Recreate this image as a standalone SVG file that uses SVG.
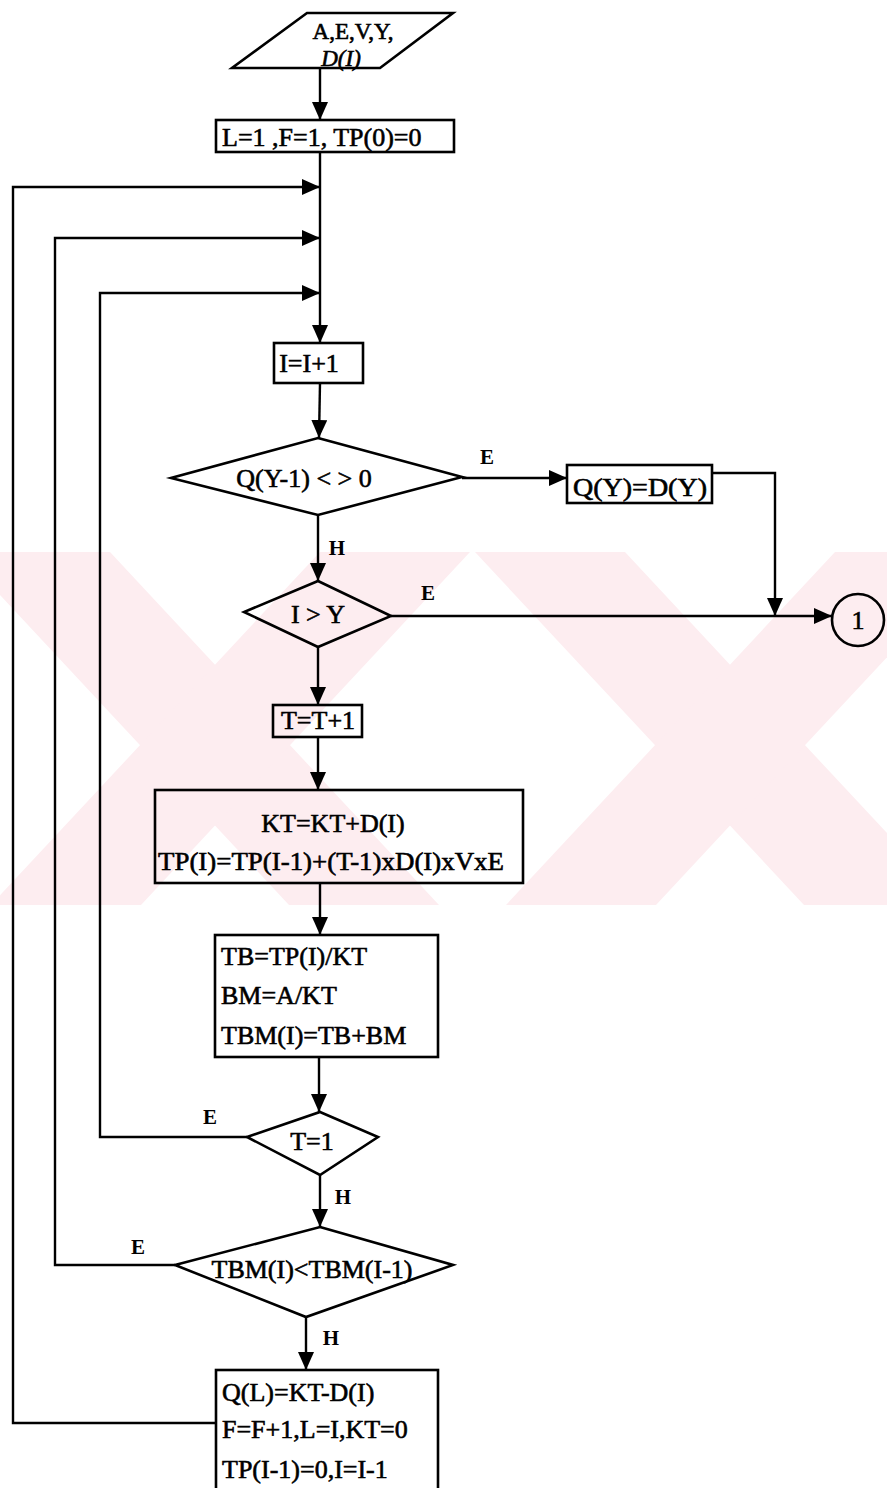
<svg xmlns="http://www.w3.org/2000/svg" width="887" height="1488" viewBox="0 0 887 1488">
<defs>
<style>
.wm{fill:#fdedf0;stroke:none}
.shape{fill:none;stroke:#000;stroke-width:2.6;stroke-linejoin:miter}
.line{fill:none;stroke:#000;stroke-width:2.4}
.t{font-family:"Liberation Serif","Times New Roman",serif;font-size:26px;fill:#000;stroke:#000;stroke-width:0.6}
.ts{font-size:23px}
.lab{font-family:"Liberation Serif","Times New Roman",serif;font-size:21px;font-weight:bold;fill:#000}
</style>
<marker id="ah" viewBox="0 0 18 16" refX="18" refY="8" markerWidth="18" markerHeight="16" markerUnits="userSpaceOnUse" orient="auto">
<path d="M0,0 L18,8 L0,16 Z" fill="#000"/>
</marker>
</defs>
<rect width="887" height="1488" fill="#fff"/>
<g id="watermark">
<polygon class="wm" points="-40,552 110,552 439,905 289,905"/>
<polygon class="wm" points="320,552 470,552 141,905 -9,905"/>
<polygon class="wm" points="475,552 625,552 954,905 804,905"/>
<polygon class="wm" points="835,552 985,552 656,905 506,905"/>
</g>
<g id="connectors">
<line class="line" x1="320" y1="68" x2="320" y2="120" marker-end="url(#ah)"/>
<line class="line" x1="320" y1="152" x2="320" y2="343" marker-end="url(#ah)"/>
<line class="line" x1="320" y1="383" x2="319" y2="438" marker-end="url(#ah)"/>
<line class="line" x1="318" y1="515" x2="318" y2="581" marker-end="url(#ah)"/>
<line class="line" x1="318" y1="647" x2="318" y2="705" marker-end="url(#ah)"/>
<line class="line" x1="318" y1="737" x2="318" y2="790" marker-end="url(#ah)"/>
<line class="line" x1="320" y1="883" x2="320" y2="935" marker-end="url(#ah)"/>
<line class="line" x1="319" y1="1057" x2="319" y2="1112" marker-end="url(#ah)"/>
<line class="line" x1="320" y1="1175" x2="320" y2="1227" marker-end="url(#ah)"/>
<line class="line" x1="306" y1="1317" x2="306" y2="1370" marker-end="url(#ah)"/>
<line class="line" x1="462" y1="478" x2="567" y2="478" marker-end="url(#ah)"/>
<polyline class="line" points="712,473 775,473 775,616" marker-end="url(#ah)"/>
<line class="line" x1="391" y1="616" x2="832" y2="616" marker-end="url(#ah)"/>
<polyline class="line" points="247,1137 100,1137 100,293 320,293" marker-end="url(#ah)"/>
<polyline class="line" points="175,1265 55,1265 55,238 320,238" marker-end="url(#ah)"/>
<polyline class="line" points="216,1423 13,1423 13,187 320,187" marker-end="url(#ah)"/>
<text class="lab" x="487" y="464" text-anchor="middle">E</text>
<text class="lab" x="337" y="555" text-anchor="middle">H</text>
<text class="lab" x="428" y="600" text-anchor="middle">E</text>
<text class="lab" x="210" y="1124" text-anchor="middle">E</text>
<text class="lab" x="343" y="1204" text-anchor="middle">H</text>
<text class="lab" x="138" y="1254" text-anchor="middle">E</text>
<text class="lab" x="331" y="1345" text-anchor="middle">H</text>
</g>
<g id="n_input">
<polygon class="shape" points="307,13 453,13 380,68 232,68"/>
<text class="t ts" x="353" y="39" text-anchor="middle">A,E,V,Y,</text>
<text class="t ts" x="341" y="66" text-anchor="middle" font-style="italic">D(I)</text>
</g>
<g id="n_init">
<rect class="shape" x="216" y="120" width="238" height="32"/>
<text class="t" x="222" y="146">L=1 ,F=1, TP(0)=0</text>
</g>
<g id="n_inc">
<rect class="shape" x="274" y="343" width="89" height="40"/>
<text class="t" x="309" y="372" text-anchor="middle">I=I+1</text>
</g>
<g id="n_q">
<polygon class="shape" points="318,438 462,477 318,515 171,478"/>
<text class="t" x="304" y="487" text-anchor="middle">Q(Y-1) &lt; &gt;  0</text>
</g>
<g id="n_qy">
<rect class="shape" x="567" y="465" width="145" height="38"/>
<text class="t" x="640" y="496" text-anchor="middle" textLength="134" lengthAdjust="spacingAndGlyphs">Q(Y)=D(Y)</text>
</g>
<g id="n_iy">
<polygon class="shape" points="318,581 391,616 318,647 244,612"/>
<text class="t" x="318" y="623" text-anchor="middle">I &gt; Y</text>
</g>
<g id="n_end">
<circle class="shape" cx="858" cy="620" r="26"/>
<text class="t" x="858" y="629" text-anchor="middle">1</text>
</g>
<g id="n_t">
<rect class="shape" x="273" y="705" width="89" height="32"/>
<text class="t" x="318" y="729" text-anchor="middle">T=T+1</text>
</g>
<g id="n_kt">
<rect class="shape" x="155" y="790" width="368" height="93"/>
<text class="t" x="333" y="832" text-anchor="middle">KT=KT+D(I)</text>
<text class="t" x="158" y="870" textLength="346" lengthAdjust="spacingAndGlyphs">TP(I)=TP(I-1)+(T-1)xD(I)xVxE</text>
</g>
<g id="n_tb">
<rect class="shape" x="215" y="935" width="223" height="122"/>
<text class="t" x="221" y="965">TB=TP(I)/KT</text>
<text class="t" x="221" y="1004">BM=A/KT</text>
<text class="t" x="221" y="1044">TBM(I)=TB+BM</text>
</g>
<g id="n_t1">
<polygon class="shape" points="320,1112 378,1137 320,1175 247,1137"/>
<text class="t" x="312" y="1150" text-anchor="middle">T=1</text>
</g>
<g id="n_tbm">
<polygon class="shape" points="320,1227 453,1265 306,1317 175,1265"/>
<text class="t" x="312" y="1278" text-anchor="middle">TBM(I)&lt;TBM(I-1)</text>
</g>
<g id="n_ql">
<rect class="shape" x="216" y="1370" width="222" height="140"/>
<text class="t" x="222" y="1401">Q(L)=KT-D(I)</text>
<text class="t" x="222" y="1438">F=F+1,L=I,KT=0</text>
<text class="t" x="222" y="1478">TP(I-1)=0,I=I-1</text>
</g>
</svg>
